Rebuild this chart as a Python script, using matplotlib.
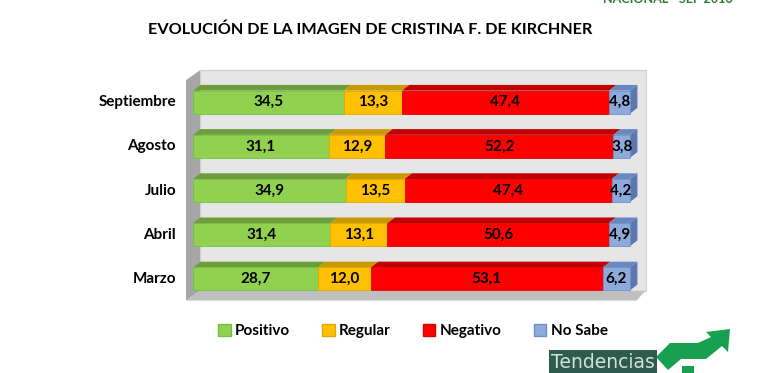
import numpy as np
import matplotlib.pyplot as plt
from matplotlib.patches import Polygon, Patch

# data (bottom to top as drawn)
months = ['Marzo', 'Abril', 'Julio', 'Agosto', 'Septiembre']
positivo = [28.7, 31.4, 34.9, 31.1, 34.5]
regular = [12.0, 13.1, 13.5, 12.9, 13.3]
negativo = [53.1, 50.6, 47.4, 52.2, 47.4]
no_sabe = [6.2, 4.9, 4.2, 3.8, 4.8]
series = ['Positivo', 'Regular', 'Negativo', 'No Sabe']

face_cols = ['#92d050', '#ffc000', '#ff0000', '#8eaadb']
top_cols = ['#6e9e3a', '#c99a00', '#c00000', '#6a88c0']
side_col = '#5b78b0'
edge_cols = ['#6fbf4a', '#e0a800', '#e00000', '#7090c8']

plt.rcParams['font.family'] = ['Lato', 'DejaVu Sans']
plt.rcParams['font.weight'] = 'bold'

fig = plt.figure(figsize=(7.68, 3.73), dpi=100)
ax = fig.add_axes([185 / 768, 72 / 373, 462 / 768, 232 / 373])
ax.set_xlim(-1.84, 103.9)
ax.set_ylim(-0.5, 4.75)
ax.axis('off')

dx, dy = 1.7, 0.13   # 3d depth of bars in data units
h = 0.52

# walls
ax.add_patch(Polygon([(1.6, -0.27), (103.6, -0.27), (103.6, 4.72), (1.6, 4.72)],
                     closed=True, fc='#e6e6e6', ec='#d0d0d0', lw=0.8, zorder=0))
ax.add_patch(Polygon([(-1.6, -0.49), (1.6, -0.27), (1.6, 4.72), (-1.6, 4.5)],
                     closed=True, fc='#a6a6a6', ec='none', zorder=0.5))
ax.add_patch(Polygon([(-1.6, -0.49), (101.5, -0.49), (103.6, -0.27), (1.6, -0.27)],
                     closed=True, fc='#bfbfbf', ec='none', zorder=0.5))

y = np.arange(len(months))
data = [positivo, regular, negativo, no_sabe]
left = np.zeros(len(months))
for k, vals in enumerate(data):
    vals = np.array(vals)
    ax.barh(y, vals, left=left, height=h, color=face_cols[k],
            edgecolor=edge_cols[k], lw=0.6, zorder=3)
    for i in range(len(months)):
        x0, x1 = left[i], left[i] + vals[i]
        yt = y[i] + h / 2
        ax.add_patch(Polygon([(x0, yt), (x1, yt), (x1 + dx, yt + dy), (x0 + dx, yt + dy)],
                             closed=True, fc=top_cols[k], ec='none', zorder=2))
        ax.text((x0 + x1) / 2, y[i], f'{vals[i]:.1f}'.replace('.', ','),
                ha='center', va='center', fontsize=11, fontweight='bold', zorder=5)
    left = left + vals

# right side face of the last segment
for i in range(len(months)):
    xr = left[i]
    ax.add_patch(Polygon([(xr, y[i] - h / 2), (xr + dx, y[i] - h / 2 + dy),
                          (xr + dx, y[i] + h / 2 + dy), (xr, y[i] + h / 2)],
                         closed=True, fc=side_col, ec='none', zorder=2))

for i, m in enumerate(months):
    ax.text(-3.9, y[i], m, ha='right', va='center', fontsize=11, fontweight='bold')

fig.text(0.482, 1 - 30 / 373, 'EVOLUCIÓN DE LA IMAGEN DE CRISTINA F. DE KIRCHNER',
         ha='center', va='center', fontsize=11.7, fontweight='bold')
fig.text(668 / 768, 1 - 3 / 373, 'NACIONAL - SEP 2016', ha='center', va='baseline',
         fontsize=9, fontweight='bold', color='#2e7d32')

handles = [Patch(fc=face_cols[k], ec=edge_cols[k]) for k in range(4)]
fig.legend(handles, series, loc='center', bbox_to_anchor=(413 / 768, 1 - 331 / 373),
           ncol=4, frameon=False, fontsize=11, handlelength=0.8, handleheight=0.8,
           handletextpad=0.3, columnspacing=2.1)

# logo
fig.text(603 / 768, 1 - 362 / 373, 'Tendencias', ha='center', va='center',
         fontsize=13.5, color='#cfe3dc', fontweight='normal', family='DejaVu Sans',
         bbox=dict(boxstyle='square,pad=0.12', fc='#2f5a4e', ec='none'))
arrow_px = [(656, 357), (670, 343), (698, 343), (711, 337), (706, 332), (730, 329),
            (728, 352), (722, 346), (706, 359), (681, 359), (668, 370)]
fig.add_artist(Polygon([(px / 768, 1 - py / 373) for px, py in arrow_px],
                       closed=True, transform=fig.transFigure, fc='#16a050', ec='none'))
stub_px = [(682, 366), (694, 366), (694, 373), (682, 373)]
fig.add_artist(Polygon([(px / 768, 1 - py / 373) for px, py in stub_px],
                       closed=True, transform=fig.transFigure, fc='#16a050', ec='none'))

fig.savefig('out.png', dpi=100)
